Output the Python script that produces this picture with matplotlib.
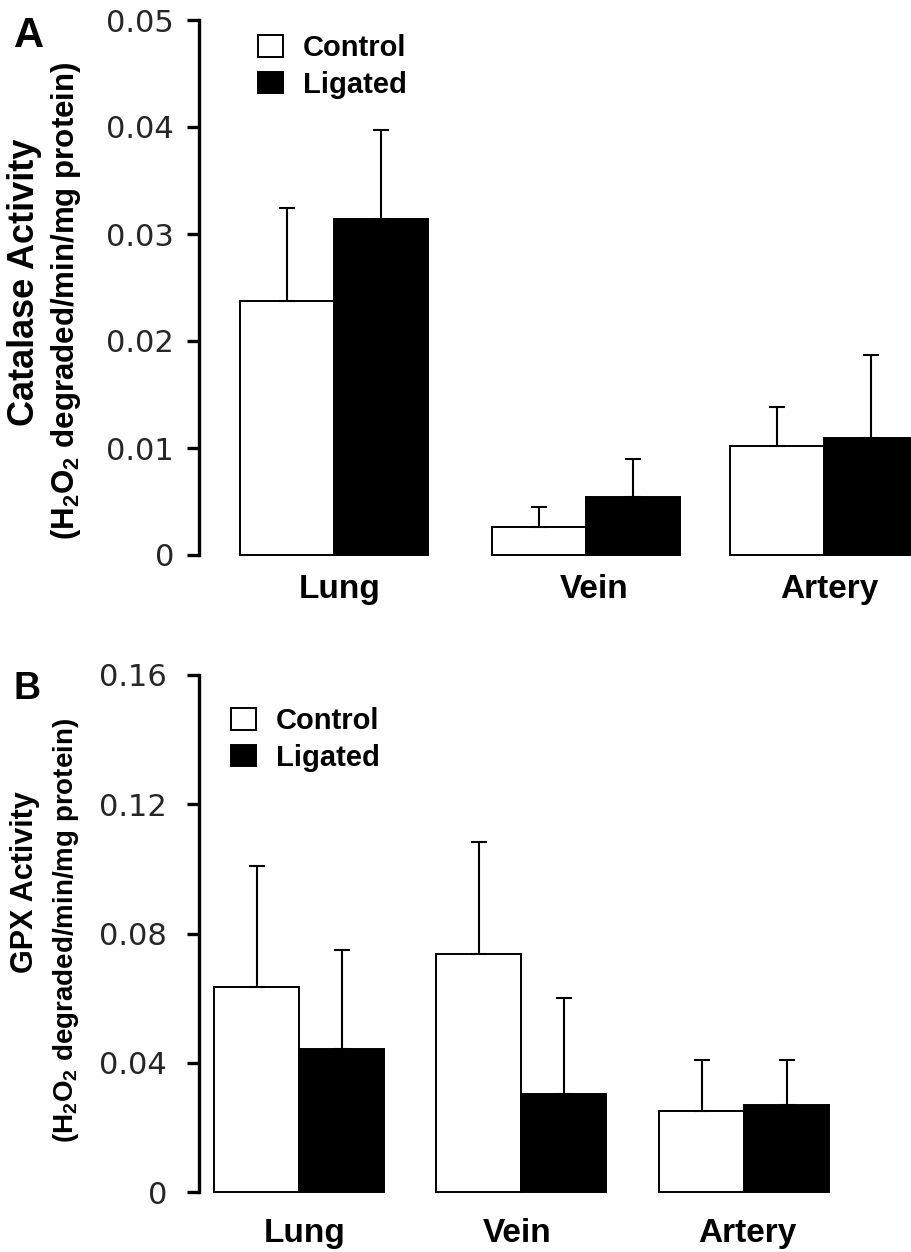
import matplotlib
matplotlib.use('Agg')
import matplotlib.pyplot as plt
from matplotlib.patches import Patch
import numpy as np

plt.rcParams['mathtext.fontset'] = 'custom'
plt.rcParams['mathtext.rm'] = 'Liberation Sans:bold'
plt.rcParams['mathtext.default'] = 'rm'

# ---------------- data ----------------
tissues = ['Lung', 'Vein', 'Artery']
series = ['Control', 'Ligated']

catalase_control = [0.0237, 0.0026, 0.0102]
catalase_control_err = [0.0087, 0.0019, 0.0036]
catalase_ligated = [0.0314, 0.0054, 0.0109]
catalase_ligated_err = [0.0083, 0.0036, 0.0078]

gpx_control = [0.0635, 0.0737, 0.0252]
gpx_control_err = [0.0375, 0.0347, 0.0155]
gpx_ligated = [0.0444, 0.0303, 0.0269]
gpx_ligated_err = [0.0304, 0.0297, 0.0138]

catalase_ticks = [0, 0.01, 0.02, 0.03, 0.04, 0.05]
catalase_ticklabels = ['0', '0.01', '0.02', '0.03', '0.04', '0.05']
gpx_ticks = [0, 0.04, 0.08, 0.12, 0.16]
gpx_ticklabels = ['0', '0.04', '0.08', '0.12', '0.16']

# ---------------- layout ----------------
W, H = 911, 1252
fig = plt.figure(figsize=(W / 100, H / 100), dpi=100)

BOLD = dict(family='Liberation Sans', weight='bold')


def px_axes(left, top, right, bottom):
    return fig.add_axes([left / W, 1 - bottom / H, (right - left) / W, (bottom - top) / H])


def panel(ax, centres, label_pos, width, ctrl, ctrl_err, lig, lig_err, ymax, ticks,
          ticklabels, ytick_pad, xlabel_pad, legend_anchor):
    c = np.array(centres, dtype=float)
    ax.set_xlim(199, 1000)
    ax.set_ylim(0, ymax)
    lw = 1.4
    ax.bar(c - width / 2, ctrl, width, color='white', edgecolor='black', linewidth=lw,
           clip_on=False, zorder=2)
    ax.bar(c + width / 2, lig, width, color='black', edgecolor='black', linewidth=lw,
           clip_on=False, zorder=2)
    zeros = np.zeros(len(ctrl))
    for x, v, e in ((c - width / 2, ctrl, ctrl_err), (c + width / 2, lig, lig_err)):
        ax.errorbar(x, v, yerr=[zeros, e], fmt='none', ecolor='black', elinewidth=1.5,
                    capsize=6, capthick=1.5, clip_on=False, zorder=3)
    for s in ('top', 'right', 'bottom'):
        ax.spines[s].set_visible(False)
    ax.spines['left'].set_linewidth(2.4)
    ax.set_yticks(ticks)
    ax.set_yticklabels(ticklabels, family='DejaVu Sans', fontsize=22, color='#262626')
    ax.tick_params(axis='y', direction='out', length=8.6, width=2.4, pad=ytick_pad)
    ax.set_xticks(label_pos)
    ax.set_xticklabels(tissues, fontsize=24, **BOLD)
    ax.tick_params(axis='x', length=0, pad=xlabel_pad)
    handles = [Patch(facecolor='white', edgecolor='black', linewidth=1.4),
               Patch(facecolor='black', edgecolor='black', linewidth=1.4)]
    ax.legend(handles, series, loc='upper left',
              bbox_to_anchor=(legend_anchor[0] / W, 1 - legend_anchor[1] / H),
              bbox_transform=fig.transFigure, frameon=False,
              prop=dict(family='Liberation Sans', weight='bold', size=21),
              handlelength=0.86, handleheight=0.76, handletextpad=0.69,
              labelspacing=0.3, borderpad=0, borderaxespad=0)


# Panel A
axA = px_axes(199, 20, 1000, 555)
panel(axA, [333.5, 586, 824], [340, 594, 829], 94, catalase_control, catalase_control_err,
      catalase_ligated, catalase_ligated_err, 0.05, catalase_ticks, catalase_ticklabels,
      9.4, 13.5, (258, 34))

# Panel B
axB = px_axes(199, 675, 1000, 1192)
panel(axB, [299, 521, 744], [305, 517.5, 747.5], 85, gpx_control, gpx_control_err,
      gpx_ligated, gpx_ligated_err, 0.16, gpx_ticks, gpx_ticklabels,
      14.4, 19, (231, 707))

# Panel letters
fig.text(14 / W, 1 - 47 / H, 'A', fontsize=30, ha='left', va='baseline', **BOLD)
fig.text(13 / W, 1 - 699 / H, 'B', fontsize=27, ha='left', va='baseline', **BOLD)

# y-axis titles
sub_label = '(H$_2$O$_2$ degraded/min/mg protein)'
fig.text(25 / W, 1 - 282 / H, 'Catalase Activity', rotation=90, ha='center', va='center',
         fontsize=26, **BOLD)
fig.text(66.5 / W, 1 - 301 / H, sub_label, rotation=90, ha='center', va='center',
         fontsize=22.5, **BOLD)
fig.text(25 / W, 1 - 882 / H, 'GPX Activity', rotation=90, ha='center', va='center',
         fontsize=22, **BOLD)
fig.text(66.5 / W, 1 - 930 / H, sub_label, rotation=90, ha='center', va='center',
         fontsize=20, **BOLD)

fig.savefig('out.png', dpi=100)
